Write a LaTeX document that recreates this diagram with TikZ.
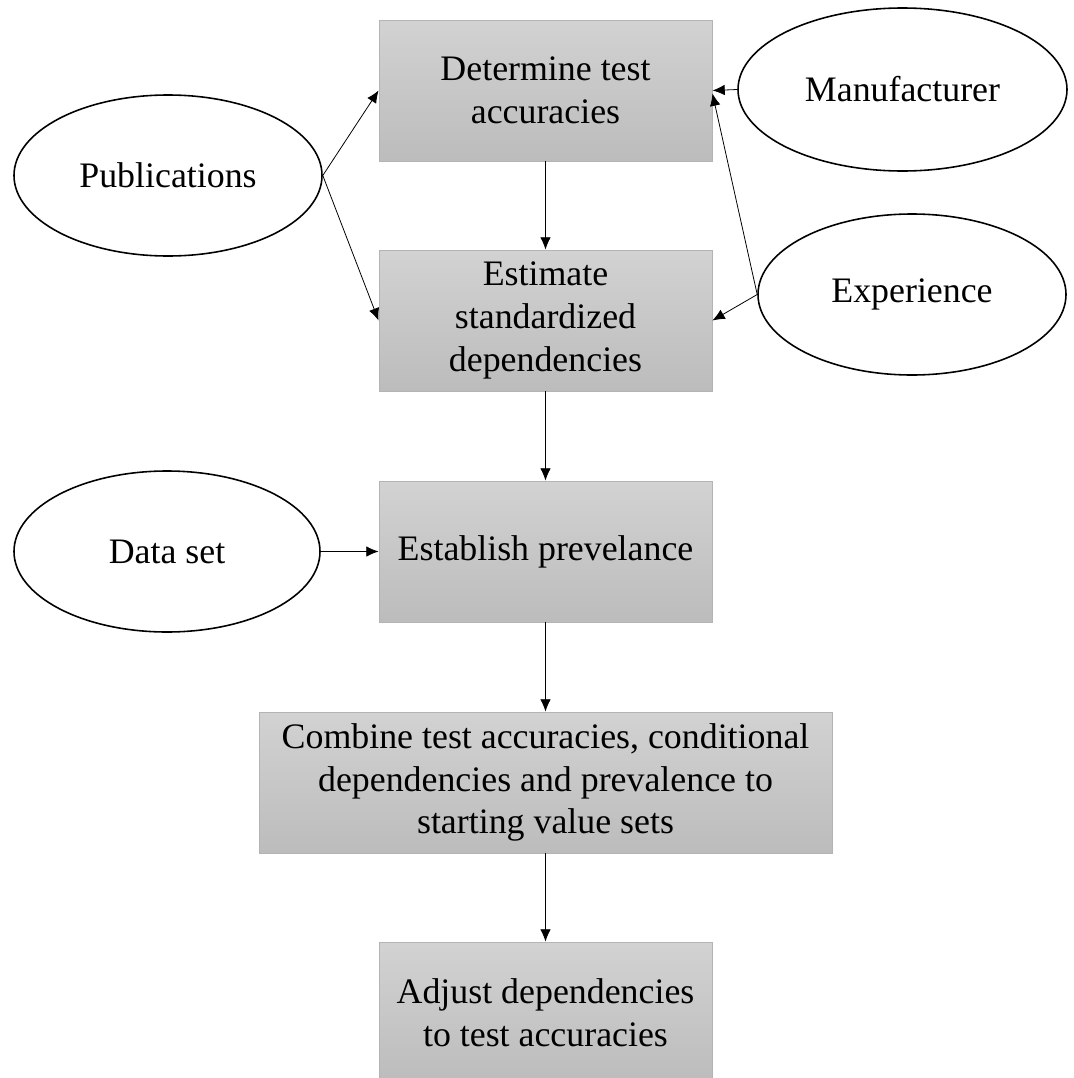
\documentclass[tikz,border=0pt]{standalone}
\usepackage{fontspec}
\setmainfont{Liberation Serif}
\usepackage{tikz}
\usetikzlibrary{arrows.meta, positioning, shapes.geometric}
\definecolor{boxtop}{RGB}{210,210,210}
\definecolor{boxbot}{RGB}{188,188,188}
\definecolor{boxedge}{RGB}{180,180,180}

\begin{document}
\begin{tikzpicture}[
  every node/.style={font=\fontsize{20.4}{24.4}\selectfont},
  box/.style={rectangle, draw=boxedge, line width=0.5pt, top color=boxtop,
    bottom color=boxbot, minimum width=6.66cm, minimum height=2.82cm,
    align=center, inner sep=2pt},
  widebox/.style={box, minimum width=11.46cm},
  oval/.style={ellipse, draw, line width=0.9pt, fill=white, inner sep=0pt,
    minimum width=6.16cm, minimum height=3.22cm},
  arr/.style={-{Latex[length=7pt,width=6pt]}, line width=0.45pt}
]
  \useasboundingbox (0,0) rectangle (21.48,-21.56);

  % Process steps
  \node[box]     (b1) at (10.91, -1.81)  {Determine test\\accuracies};
  \node[box]     (b2) at (10.91, -6.41)  {Estimate\\standardized\\dependencies};
  \node[box]     (b3) at (10.91,-11.03)  {Establish prevelance};
  \node[widebox] (b4) at (10.91,-15.65)
    {Combine test accuracies, conditional\\dependencies and prevalence to\\starting value sets};
  \node[box]     (b5) at (10.91,-20.25)  {Adjust dependencies\\to test accuracies};

  % Sources
  \node[oval] (pub)  at (3.36, -3.51) {Publications};
  \node[oval, minimum width=6.58cm, minimum height=3.26cm]
              (man)  at (18.05,-1.79) {Manufacturer};
  \node[oval] (exp)  at (18.24,-5.89) {Experience};
  \node[oval, minimum width=6.12cm]
              (data) at (3.34,-11.03) {Data set};

  \draw[arr] (b1) -- (b2);
  \draw[arr] (b2) -- (b3);
  \draw[arr] (b3) -- (b4);
  \draw[arr] (b4) -- (b5);

  \draw[arr] (pub.east)  -- (b1.west);
  \draw[arr] (pub.east)  -- (b2.west);
  \draw[arr] (man.west)  -- (b1.east);
  \draw[arr] (exp.west)  -- ([yshift=-0.06cm]b1.east);
  \draw[arr] (exp.west)  -- (b2.east);
  \draw[arr] (data.east) -- (b3.west);

\end{tikzpicture}
\end{document}
